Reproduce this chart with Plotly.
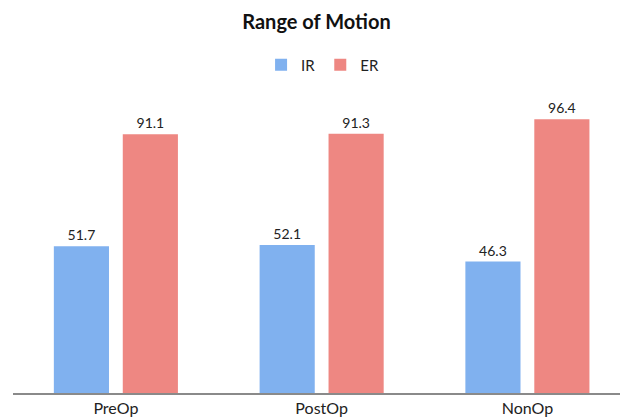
import plotly.graph_objects as go

categories = ["PreOp", "PostOp", "NonOp"]
ir_values = [51.7, 52.1, 46.3]
er_values = [91.1, 91.3, 96.4]
value_labels_ir = ["51.7", "52.1", "46.3"]
value_labels_er = ["91.1", "91.3", "96.4"]

FONT = "Lato, 'Open Sans', sans-serif"

fig = go.Figure()
fig.add_trace(go.Bar(
    x=categories, y=ir_values, name="IR",
    marker=dict(color="#80b1ef", line=dict(width=0)),
    text=value_labels_ir, textposition="outside",
    textfont=dict(size=14, color="#222", family=FONT),
    cliponaxis=False,
))
fig.add_trace(go.Bar(
    x=categories, y=er_values, name="ER",
    marker=dict(color="#ee8782", line=dict(width=0)),
    text=value_labels_er, textposition="outside",
    textfont=dict(size=14, color="#222", family=FONT),
    cliponaxis=False,
))

fig.update_layout(
    width=620, height=418,
    margin=dict(l=13, r=0, t=109, b=25),
    paper_bgcolor="white", plot_bgcolor="white",
    font=dict(family=FONT, color="#222"),
    barmode="group", bargap=0.33, bargroupgap=0.2,
    title=dict(text="<b>Range of Motion</b>", x=0.5, xref="paper",
               y=1 - 22 / 418, yref="container", xanchor="center", yanchor="middle",
               font=dict(size=20, family=FONT, color="#111")),
    legend=dict(orientation="h", x=0.51, xref="paper", xanchor="center",
                y=1 - 65 / 418, yref="container", yanchor="middle",
                font=dict(size=15, family=FONT, color="#222"),
                itemwidth=30, traceorder="normal"),
    showlegend=True,
)
fig.update_xaxes(range=[-0.5, 2.45], showline=True, linecolor="#8a8a8a", linewidth=2,
                 ticks="", tickfont=dict(size=16, family=FONT, color="#222"),
                 showgrid=False, zeroline=False)
fig.update_yaxes(range=[0, 100], visible=False, showgrid=False, zeroline=False)

fig.write_html("out.html", config={"displayModeBar": False},
               post_script="document.body.style.margin='0px';")
